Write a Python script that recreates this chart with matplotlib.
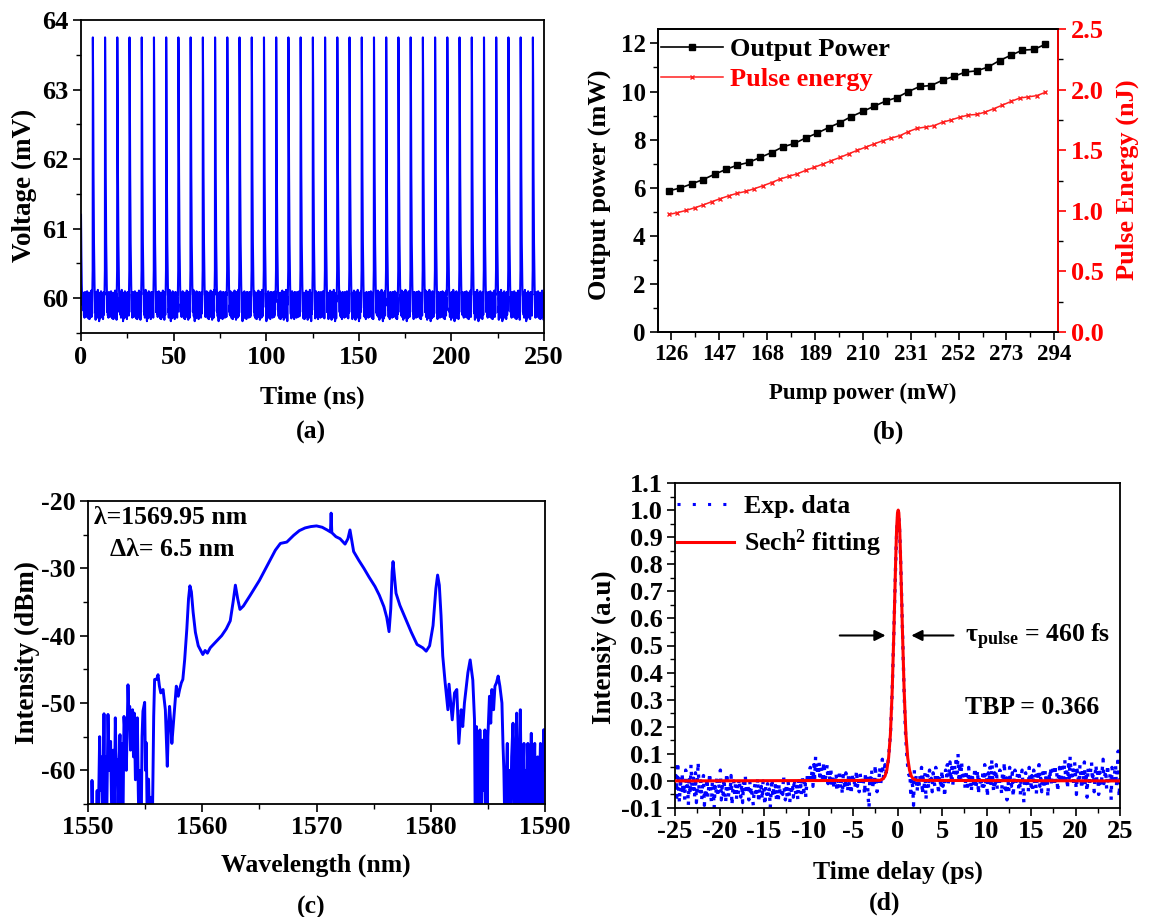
import matplotlib

matplotlib.use("Agg")
import matplotlib.pyplot as plt
import numpy as np
from matplotlib.lines import Line2D
from matplotlib.ticker import MultipleLocator, FormatStrFormatter

W, H = 1153, 917

# ---- (a) pulse train ----
PULSE_T = [6.4, 13.0, 19.6, 26.2, 32.8, 39.4, 46.0, 52.6, 59.2, 65.8,
           72.4, 79.0, 85.6, 92.2, 98.8, 105.4, 112.0, 118.6, 125.2, 131.8,
           138.4, 145.0, 151.6, 158.2, 164.8, 171.4, 178.0, 184.6, 191.2, 197.8,
           204.4, 211.0, 217.6, 224.2, 230.8, 237.4, 244.0]
PULSE_DT = [-0.3, -0.1, 0.0, 0.15, 0.35, 0.6, 0.9, 1.2]
PULSE_V = [60.05, 60.4, 63.75, 63.1, 61.8, 60.8, 60.2, 59.8]
START_T = [0.0, 0.2, 0.4, 0.7, 1.0]
START_V = [61.2, 60.6, 60.2, 59.9, 60.05]
# baseline wiggle, hundredths of mV around 60 mV
NOISE_A = [-5, 8, -18, 3, -25, 6, -12, -28, 2, -20, 9, -8, -22, 4, -15, -27, 7,
           -10, -24, 1, -17, 10, -6, -26, -2, -19, 5, -13, -29, 3, -9, -21, 8,
           -16, -30, 0, -11, -23, 6, -7, -25, 2, -18, 11, -14, -27, 4, -4, -22,
           7, -12, -31, 1, -20, 9, -8, -24, 3, -16, -28, 5, -10, -19, 12, -6,
           -26, -1, -21, 8, -13, -33, 2, -9, -23, 6, -17, -29, 4, -5, -20, 10,
           -14, -25, 0, -11, -27, 7, -18, 3, -22, -8, -30, 5, -15, 9, -3, -24]

# ---- (b) power / energy ----
PUMP_B = [125, 130, 135, 140, 145, 150, 155, 160, 165, 170, 175, 180, 185, 190,
          195, 200, 205, 210, 215, 220, 225, 230, 235, 240, 245, 250, 255, 260,
          265, 270, 275, 280, 285, 290]
POWER_B = [5.87, 5.99, 6.16, 6.34, 6.56, 6.76, 6.94, 7.05, 7.26, 7.46, 7.70, 7.84,
           8.07, 8.27, 8.50, 8.71, 8.96, 9.17, 9.39, 9.60, 9.75, 10.00, 10.21,
           10.25, 10.47, 10.63, 10.81, 10.86, 11.02, 11.29, 11.51, 11.72, 11.75,
           11.96]
PUMP_E = [125.00, 128.75, 132.50, 136.25, 140.00, 143.75, 147.50, 151.25, 155.00,
          158.75, 162.50, 166.25, 170.00, 173.75, 177.50, 181.25, 185.00, 188.75,
          192.50, 196.25, 200.00, 203.75, 207.50, 211.25, 215.00, 218.75, 222.50,
          226.25, 230.00, 233.75, 237.50, 241.25, 245.00, 248.75, 252.50, 256.25,
          260.00, 263.75, 267.50, 271.25, 275.00, 278.75, 282.50, 286.25, 290.00]
ENERGY_E = [0.970, 0.985, 1.003, 1.025, 1.048, 1.075, 1.100, 1.124, 1.145, 1.160,
            1.183, 1.207, 1.233, 1.262, 1.284, 1.305, 1.334, 1.359, 1.386, 1.414,
            1.440, 1.470, 1.498, 1.525, 1.552, 1.578, 1.600, 1.620, 1.653, 1.680,
            1.691, 1.703, 1.731, 1.750, 1.772, 1.790, 1.795, 1.815, 1.843, 1.872,
            1.902, 1.930, 1.940, 1.950, 1.977]

# ---- (c) optical spectrum, (nm, dBm); -70 means below the plot floor ----
SPEC_LEFT = [
    (1550.30, -70), (1550.35, -61.5), (1550.45, -70), (1550.70, -70), (1550.80, -63),
    (1550.88, -70), (1551.02, -55.0), (1551.10, -63), (1551.20, -58), (1551.28, -70),
    (1551.40, -51.6), (1551.48, -66), (1551.55, -58), (1551.62, -70), (1551.75, -51.7),
    (1551.85, -60), (1551.98, -55.7), (1552.05, -64), (1552.12, -70), (1552.20, -57),
    (1552.28, -70), (1552.39, -52.2), (1552.50, -62), (1552.56, -58.4), (1552.62, -68),
    (1552.70, -60), (1552.80, -54.7), (1552.88, -70), (1552.98, -56), (1553.05, -70),
    (1553.15, -52.0), (1553.25, -55), (1553.35, -60), (1553.42, -55), (1553.50, -47.3),
    (1553.58, -52), (1553.65, -50.5), (1553.72, -57), (1553.80, -53), (1553.90, -51.0),
    (1553.98, -58), (1554.05, -51.5), (1554.15, -61.4), (1554.25, -56), (1554.32, -52.2),
    (1554.40, -63), (1554.48, -70), (1554.56, -60), (1554.65, -70), (1554.73, -55),
    (1554.81, -51.2), (1554.96, -49.9), (1555.03, -60), (1555.10, -55.9), (1555.20, -70),
    (1555.30, -61.3), (1555.42, -70), (1555.52, -64), (1555.62, -70), (1555.75, -52),
]
SPEC_MID = [
    (1555.83, -46.5), (1556.00, -46.5), (1556.13, -45.8), (1556.25, -47.5),
    (1556.37, -48.5), (1556.57, -48.0), (1556.77, -51.0), (1556.94, -59.4),
    (1557.05, -53), (1557.14, -50.5), (1557.25, -53), (1557.34, -56.0),
    (1557.52, -52.0), (1557.73, -47.5), (1557.90, -49), (1558.02, -48.0),
    (1558.17, -47.0), (1558.30, -46.5), (1558.46, -43.6), (1558.65, -39),
    (1558.80, -34.5), (1558.92, -32.6), (1559.05, -33.5), (1559.20, -36.5),
    (1559.40, -39.5), (1559.65, -41.5), (1560.05, -42.8), (1560.25, -42.2),
    (1560.45, -42.6), (1560.70, -41.8), (1561.20, -40.9), (1561.70, -40.0),
    (1562.10, -39.0), (1562.45, -37.8), (1562.70, -35.0), (1562.90, -32.5),
    (1563.10, -34.5), (1563.30, -36.1), (1563.60, -35.6), (1564.20, -34.0),
    (1565.00, -31.8), (1565.50, -30.2), (1565.94, -28.8), (1566.40, -27.3),
    (1566.84, -26.3), (1567.40, -26.1), (1568.00, -25.1), (1568.50, -24.4),
    (1569.00, -24.0), (1569.50, -23.8), (1570.00, -23.7), (1570.50, -23.9),
    (1570.93, -24.3), (1571.22, -24.6), (1571.28, -21.8), (1571.34, -24.7),
    (1571.70, -25.3), (1572.06, -25.6), (1572.50, -26.4), (1572.75, -25.6),
    (1572.93, -24.3), (1573.05, -25.5), (1573.25, -27.5), (1573.70, -28.8),
    (1574.15, -30.0), (1574.60, -31.3), (1575.12, -32.7), (1575.50, -34.0),
    (1575.90, -35.7), (1576.15, -37.3), (1576.35, -39.4), (1576.50, -36.0),
    (1576.62, -30.5), (1576.70, -29.0), (1576.80, -30.8), (1576.96, -33.7),
    (1577.30, -35.5), (1577.70, -37.1), (1578.30, -39.5), (1578.80, -41.3),
    (1579.30, -41.8), (1579.60, -42.3), (1579.90, -41.5), (1580.20, -38.5),
    (1580.45, -33.0), (1580.60, -31.0), (1580.75, -32.5), (1580.90, -37.0),
    (1581.05, -43.0), (1581.25, -46.8), (1581.50, -51.0), (1581.60, -47.2),
    (1581.88, -52.5), (1582.08, -48.5), (1582.28, -48.0), (1582.46, -56.0),
    (1582.66, -51.0), (1582.80, -53.5), (1582.95, -50.0), (1583.25, -45.5),
    (1583.45, -43.6), (1583.68, -46.6), (1583.83, -52.5),
]
SPEC_RIGHT = [
    (1583.90, -70), (1584.00, -53.5), (1584.05, -66), (1584.10, -70), (1584.18, -58),
    (1584.24, -70), (1584.30, -54.0), (1584.36, -62), (1584.42, -70), (1584.50, -60),
    (1584.57, -55.5), (1584.66, -63), (1584.74, -54.0), (1584.80, -70), (1584.88, -58),
    (1584.94, -70), (1585.00, -55.0), (1585.14, -49.0), (1585.25, -53), (1585.35, -48.0),
    (1585.50, -51), (1585.62, -47.5), (1585.75, -47.0), (1585.90, -46.0), (1586.05, -47.5),
    (1586.23, -50.0), (1586.32, -56), (1586.40, -60.0), (1586.50, -70), (1586.60, -62),
    (1586.70, -56.0), (1586.78, -70), (1586.90, -60), (1586.98, -70), (1587.08, -58),
    (1587.20, -53.0), (1587.28, -64), (1587.35, -70), (1587.44, -58), (1587.52, -51.5),
    (1587.58, -62), (1587.65, -70), (1587.75, -60), (1587.84, -51.0), (1587.90, -60),
    (1587.95, -70), (1588.05, -62), (1588.16, -56.0), (1588.22, -70), (1588.30, -60),
    (1588.38, -70), (1588.50, -56.0), (1588.58, -64), (1588.65, -70), (1588.72, -60),
    (1588.80, -54.5), (1588.88, -62), (1588.95, -70), (1589.02, -61), (1589.10, -56.0),
    (1589.18, -70), (1589.25, -62), (1589.30, -70), (1589.36, -58.0), (1589.42, -66),
    (1589.48, -70), (1589.54, -61), (1589.60, -56.0), (1589.68, -70), (1589.75, -60),
    (1589.81, -70), (1589.87, -54.0), (1589.93, -60), (1590.00, -54.0),
]

# ---- (d) autocorrelation ----
# background samples (hundredths), x = -25.0 ... -1.4 and 1.4 ... 25.0, step 0.1
NOISE_D_LEFT = [
    -3, 2, -6, 7, -2, -8, 1, -4, 3, -5, -1, -7, 4, -3, 0, -9, 2, -5, 6, -2,
    -4, 1, -6, 3, -8, -2, 7, -3, -5, 0, -7, -1, 2, -9, -3, -5, 1, -6, -2, 3,
    -4, -8, 0, -3, -10, -2, -5, 2, -6, -1, -3, 4, -7, -2, -5, 1, -4, -8, 3, -1,
    -6, -2, -4, 2, -9, -3, 0, -5, -1, -7, -2, -5, 1, -3, -6, -1, -8, 0, -4, 2,
    -5, -3, -1, -7, 0, -4, -2, -6, -9, -3, -1, -6, -4, 1, -8, -3, -5, -2, -7, 0,
    -4, -9, -2, -5, -1, -6, -3, -10, -4, 1, -6, -2, -5, 0, -7, -3, -8, -1, -4, -6,
    -3, -5, 2, -4, -7, -2, -6, 0, -3, -8, -2, -4, -1, -6, 1, -3, -5, -2, -7, 0,
    -3, 0, -5, 2, -2, -4, 1, -6, -1, 3, 2, -1, 5, 0, 4, -2, 6, 1, 9, 3,
    6, 2, 7, 0, 5, 3, -1, 7, 4, 1, 3, 6, -1, 4, 0, 5, -2, 2, -3, 1,
    -2, 3, -4, 1, -1, 4, -3, 0, -5, 2, 0, -3, 3, -1, -4, 2, -2, 1, -5, 3,
    -1, 2, -3, 0, 4, -2, 1, -4, 3, -1, 2, -2, 0, -5, 3, -1, 1, -6, -10, 2,
    -1, 4, -3, 1, -2, 6, 0, -4, 2, -1, 5, -2, 3, 8, 1, 4, 6]
NOISE_D_RIGHT = [
    3, -6, 1, -2, -9, 4, -1, 2, -4, 0, -3, 2, -1, 5, -5, 1, -2, 3, -7, 0,
    2, -3, 4, -1, 1, -4, 3, 0, -2, 5, -1, 3, -5, 2, 0, -3, 4, -2, 1, -6,
    4, 1, 6, -1, 3, 7, 0, 5, -2, 2, 6, 2, 9, 3, 10, 1, 5, -1, 7, 2,
    0, 4, -3, 3, 1, -2, 5, -1, 2, -4, 3, -2, 1, 5, -3, 0, 4, -5, 2, -1,
    1, -3, 4, -2, 6, -1, 2, -6, 3, 0, 5, -2, 8, 1, -4, 3, -1, 6, -3, 2,
    -2, 4, 0, -5, 3, -1, 7, -3, 1, -7, 2, -4, 5, 0, -2, 3, -6, 1, 4, -1,
    0, 3, -3, 2, -5, 1, 4, -2, -8, 2, 3, -1, 1, -4, 5, 0, -2, 2, -3, 4,
    -1, 2, -5, 3, 0, 6, -2, 1, -4, 3, 1, -3, 4, -1, 2, -6, 3, 0, 5, -2,
    4, 1, -2, 6, 0, 3, -4, 2, 5, -1, 2, 5, -1, 3, 8, 0, 4, -3, 6, 1,
    9, 3, 0, 5, -2, 7, 2, -5, 4, 1, -1, 6, 2, -3, 4, 0, 7, -2, 3, -6,
    5, 1, -2, 4, 7, 0, 3, -4, 2, 6, 0, 3, -5, 5, 1, -2, 4, 8, -1, 2,
    4, -3, 6, 1, -1, 3, -7, 5, 2, 0, 3, 6, -2, 4, 11, -6, 1]
# measured points across the pulse, x = -1.3 ... 1.3 step 0.1
PEAK_D = [0.03, 0.05, 0.06, 0.09, 0.13, 0.17, 0.24, 0.33, 0.44, 0.56, 0.69, 0.81,
          0.91, 0.97, 0.99, 0.95, 0.87, 0.76, 0.63, 0.50, 0.38, 0.27, 0.18, 0.12,
          0.07, 0.04, 0.02]
FIT_X = [-25, -2.0, -1.6, -1.4, -1.2, -1.0, -0.8, -0.6, -0.4, -0.2, -0.1, 0.0,
         0.08, 0.15, 0.25, 0.35, 0.55, 0.75, 0.95, 1.15, 1.35, 1.55, 1.75, 2.15, 25]
FIT_Y = [0.0, 0.002, 0.008, 0.018, 0.04, 0.085, 0.17, 0.33, 0.56, 0.82, 0.93, 0.99,
         1.0, 0.99, 0.93, 0.82, 0.56, 0.33, 0.17, 0.085, 0.04, 0.018, 0.008, 0.002, 0.0]

BLUE = "#0000FF"
RED = "#FF0000"

plt.rcParams["font.family"] = ["Liberation Serif", "DejaVu Serif"]
plt.rcParams["font.weight"] = "bold"
plt.rcParams["axes.labelweight"] = "bold"
plt.rcParams["axes.unicode_minus"] = False
plt.rcParams["mathtext.fontset"] = "custom"
plt.rcParams["mathtext.rm"] = "Liberation Serif:bold"
plt.rcParams["mathtext.bf"] = "Liberation Serif:bold"
plt.rcParams["mathtext.it"] = "Liberation Serif:bold:italic"
plt.rcParams["axes.linewidth"] = 1.3

fig = plt.figure(figsize=(W / 100, H / 100), dpi=100)
fig.patch.set_facecolor("white")


def px_axes(l, t, r, b):
    return fig.add_axes([l / W, 1 - b / H, (r - l) / W, (b - t) / H])


def style_ticks(ax, size=19):
    ax.tick_params(which="major", direction="out", length=6, width=1.2,
                   labelsize=size, pad=3)
    ax.tick_params(which="minor", direction="out", length=3.5, width=1.0)


def label_at(ax, axis, text, px, py, box, size=19, color="black"):
    l, t, r, b = box
    fx = (px - l) / (r - l)
    fy = (b - py) / (b - t)
    if axis == "x":
        ax.set_xlabel(text, fontsize=size, color=color)
        ax.xaxis.set_label_coords(fx, fy)
        ax.xaxis.label.set_verticalalignment("center")
    else:
        ax.set_ylabel(text, fontsize=size, color=color)
        ax.yaxis.set_label_coords(fx, fy)
        ax.yaxis.label.set_verticalalignment("center")


# ================= (a) =================
box_a = (81, 20, 544, 333)
ax_a = px_axes(*box_a)
t_a, v_a = list(START_T), list(START_V)
k = 0
for t in np.arange(1.2, 6.1, 0.1):
    t_a.append(t)
    v_a.append(60 + NOISE_A[k % len(NOISE_A)] / 100)
    k += 1
noise_dt = np.arange(1.3, 6.25, 0.1)
for tp in PULSE_T:
    for dt, v in zip(PULSE_DT, PULSE_V):
        t_a.append(tp + dt)
        v_a.append(v)
    for dt in noise_dt:
        if tp + dt > 250:
            break
        t_a.append(tp + dt)
        v_a.append(60 + NOISE_A[k % len(NOISE_A)] / 100)
        k += 1
ax_a.plot(t_a, v_a, color=BLUE, lw=1.5)
ax_a.set_xlim(0, 250)
ax_a.set_ylim(59.5, 64)
ax_a.xaxis.set_major_locator(MultipleLocator(50))
ax_a.xaxis.set_minor_locator(MultipleLocator(25))
ax_a.yaxis.set_major_locator(MultipleLocator(1))
ax_a.yaxis.set_minor_locator(MultipleLocator(0.5))
style_ticks(ax_a)
label_at(ax_a, "x", "Time (ns)", 312.5, 397, box_a, 18.5)
label_at(ax_a, "y", "Voltage (mV)", 24, 185, box_a, 19.5)
fig.text(310.7 / W, 1 - 432 / H, "(a)", ha="center", va="center", fontsize=18.5)

# ================= (b) =================
box_b = (658, 29, 1058, 332)
ax_b = px_axes(*box_b)
ax_b.plot(PUMP_B, POWER_B, color="black", lw=1.2, marker="s", ms=5, zorder=3)
ax_b.set_xlim(120.2, 295.6)
ax_b.set_ylim(0, 12.6)
ax_b.set_xticks([126, 147, 168, 189, 210, 231, 252, 273, 294])
ax_b.xaxis.set_minor_locator(MultipleLocator(10.5))
ax_b.yaxis.set_major_locator(MultipleLocator(2))
ax_b.yaxis.set_minor_locator(MultipleLocator(1))
style_ticks(ax_b, 18)
ax_b.tick_params(axis="x", labelsize=16.5)
label_at(ax_b, "x", "Pump power (mW)", 863, 393, box_b, 16.5)
label_at(ax_b, "y", "Output power (mW)", 600, 185, box_b, 19)

ax_e = ax_b.twinx()
ax_e.plot(PUMP_E, ENERGY_E, color="#FF2020", lw=1.1, marker="x", ms=3.5, mew=1.0)
ax_e.set_ylim(0, 2.5)
ax_e.yaxis.set_major_locator(MultipleLocator(0.5))
ax_e.yaxis.set_minor_locator(MultipleLocator(0.25))
ax_e.yaxis.set_major_formatter(FormatStrFormatter("%.1f"))
style_ticks(ax_e, 19)
ax_e.tick_params(axis="y", colors=RED)
ax_e.spines["right"].set_color(RED)
label_at(ax_e, "y", "Pulse Energy (nJ)", 1127.5, 180, box_b, 19, RED)
fig.text(888.5 / W, 1 - 432 / H, "(b)", ha="center", va="center", fontsize=18.5)

handles_b = [
    Line2D([], [], color="black", lw=1.2, marker="s", ms=5),
    Line2D([], [], color="#FF2020", lw=1.1, marker="x", ms=3.5, mew=1.0),
]
leg_b = ax_b.legend(handles_b, ["Output Power", "Pulse energy"], loc="upper left",
                    bbox_to_anchor=((661 - 658) / 400, (332 - 38) / 303),
                    frameon=False, fontsize=19, borderpad=0, borderaxespad=0,
                    handlelength=2.35, handletextpad=0.25, labelspacing=0.24,
                    numpoints=1)
leg_b.get_texts()[1].set_color(RED)

# ================= (c) =================
box_c = (88, 501, 545, 804)
ax_c = px_axes(*box_c)
spec = SPEC_LEFT + SPEC_MID + SPEC_RIGHT
wl_c = [p[0] for p in spec]
dbm_c = [p[1] for p in spec]
ax_c.plot(wl_c, dbm_c, color=BLUE, lw=2.1, solid_joinstyle="round")
ax_c.set_xlim(1550, 1590)
ax_c.set_ylim(-65, -20)
ax_c.xaxis.set_major_locator(MultipleLocator(10))
ax_c.xaxis.set_minor_locator(MultipleLocator(5))
ax_c.yaxis.set_major_locator(MultipleLocator(10))
ax_c.yaxis.set_minor_locator(MultipleLocator(5))
style_ticks(ax_c, 18.5)
label_at(ax_c, "x", "Wavelength (nm)", 316, 865, box_c, 18.5)
label_at(ax_c, "y", "Intensity (dBm)", 27.6, 653, box_c, 19.5)
ax_c.text((93.75 - 88) / 457, (804 - 518) / 303, "λ=1569.95 nm",
          transform=ax_c.transAxes, ha="left", va="center", fontsize=18.5)
ax_c.text((110.3 - 88) / 457, (804 - 550) / 303, "Δλ= 6.5 nm",
          transform=ax_c.transAxes, ha="left", va="center", fontsize=18.5)
fig.text(310.7 / W, 1 - 907 / H, "(c)", ha="center", va="center", fontsize=18.5)

# ================= (d) =================
box_d = (675, 483, 1120, 808)
ax_d = px_axes(*box_d)
x_left = np.arange(-250, -13) / 10
x_right = np.arange(14, 251) / 10
x_peak = np.arange(-13, 14) / 10
x_d = np.concatenate([x_left, x_peak, x_right])
y_d = np.concatenate([np.array(NOISE_D_LEFT) / 100, PEAK_D,
                      np.array(NOISE_D_RIGHT) / 100])
# experimental trace drawn as a dotted line, like the original
ax_d.plot(x_d, y_d, ls=(0, (1, 2.2)), lw=2.4, color=BLUE, zorder=2)
ax_d.plot(FIT_X, FIT_Y, color=RED, lw=2.2, zorder=3)
ax_d.set_xlim(-25, 25)
ax_d.set_ylim(-0.1, 1.1)
ax_d.xaxis.set_major_locator(MultipleLocator(5))
ax_d.xaxis.set_minor_locator(MultipleLocator(2.5))
ax_d.yaxis.set_major_locator(MultipleLocator(0.1))
ax_d.yaxis.set_minor_locator(MultipleLocator(0.05))
ax_d.yaxis.set_major_formatter(FormatStrFormatter("%.1f"))
style_ticks(ax_d, 19)
label_at(ax_d, "x", "Time delay (ps)", 897.7, 872, box_d, 18.5)
label_at(ax_d, "y", "Intensiy (a.u)", 604.7, 647, box_d, 19.5)
fig.text(884.8 / W, 1 - 903 / H, "(d)", ha="center", va="center", fontsize=18.5)

handles_d = [
    Line2D([], [], color=BLUE, lw=2.2, ls=(0, (1, 4))),
    Line2D([], [], color=RED, lw=2.2),
]
ax_d.legend(handles_d, ["Exp. data", r"Sech$^\mathbf{2}$ fitting"], loc="upper left",
            bbox_to_anchor=((677 - 675) / 445, (808 - 495) / 325),
            frameon=False, fontsize=18.5, borderpad=0, borderaxespad=0,
            handlelength=2.2, handletextpad=0.4, labelspacing=0.38)

arrow = dict(arrowstyle="-|>", color="black", lw=1.5, mutation_scale=16)
ax_d.annotate("", xy=(-1.03, 0.537), xytext=(-6.8, 0.537), arrowprops=arrow)
ax_d.annotate("", xy=(1.24, 0.537), xytext=(6.6, 0.537), arrowprops=arrow)
ax_d.text(7.64, 0.51, r"τ$_\mathbf{pulse}$ = 460 fs", ha="left", va="baseline",
          fontsize=18.5)
ax_d.text(7.64, 0.27, "TBP = 0.366", ha="left", va="center", fontsize=18.5)

fig.savefig("out.png", dpi=100)
